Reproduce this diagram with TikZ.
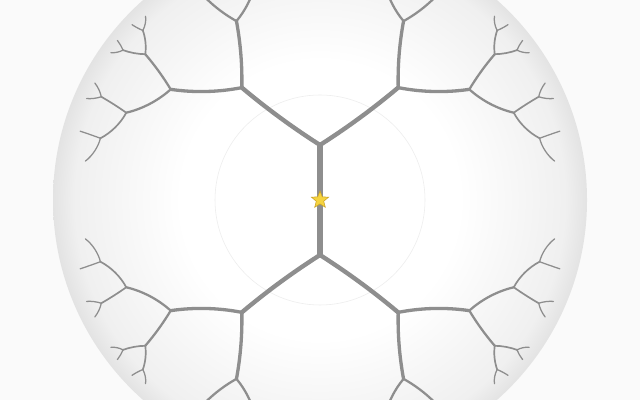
\documentclass[tikz,border=0pt]{standalone}
\usetikzlibrary{shapes.geometric}

\definecolor{twig}{HTML}{8E8E8E}
\definecolor{gold}{HTML}{F5D33F}
\definecolor{goldedge}{HTML}{C9A227}
\pgfdeclareradialshading{disc}{\pgfpointorigin}{color(0bp)=(white); color(13bp)=(white); color(23bp)=(black!6); color(25bp)=(black!11); color(50bp)=(black!11)}

% step length of one edge in the disc, tanh(L/2)
\newcommand\sproutlen{0.3969}
% #1 name, #2 x, #3 y, #4 heading, #5 levels still to grow
\newcommand\sprout[5]{%
  \ifnum#5>0
    \foreach \side/\sgn in {l/1,r/-1}{%
      \pgfmathsetmacro\fan{{48,48.5,50.5,51.2,57.5}[#5-1]}
      \pgfmathsetmacro\dir{(#4)+(\sgn)*(\fan)}
      \pgfmathsetmacro\wx{\sproutlen*cos(\dir)}
      \pgfmathsetmacro\wy{\sproutlen*sin(\dir)}
      \pgfmathsetmacro\qx{1+(#2)*(\wx)+(#3)*(\wy)}
      \pgfmathsetmacro\qy{(#2)*(\wy)-(#3)*(\wx)}
      \pgfmathsetmacro\qq{(\qx)*(\qx)+(\qy)*(\qy)}
      \pgfmathsetmacro\cx{(((\wx)+(#2))*(\qx)+((\wy)+(#3))*(\qy))/(\qq)}
      \pgfmathsetmacro\cy{(((\wy)+(#3))*(\qx)-((\wx)+(#2))*(\qy))/(\qq)}
      \pgfmathsetmacro\hd{(\dir)-2*atan2(\qy,\qx)}
      \pgfmathsetmacro\hk{veclen((\cx)-(#2),(\cy)-(#3))/3}
      \coordinate (#1\side) at (\cx,\cy);
      \draw[branch, tier#5] (#1) .. controls +(\dir:\hk) and +(\hd+180:\hk) .. (#1\side);
      \pgfmathtruncatemacro\lv{#5-1}
      \edef\next{\noexpand\sprout{#1\side}{\cx}{\cy}{\hd}{\lv}}\next
    }%
  \fi}

\begin{document}
\begin{tikzpicture}[
    branch/.style={draw=twig, line cap=round},
    trunk/.style={line width=3.6pt},
    tier5/.style={line width=3.1pt},
    tier4/.style={line width=2.35pt},
    tier3/.style={line width=1.6pt},
    tier2/.style={line width=1.2pt},
    tier1/.style={line width=0.9pt},
    hub/.style={star, star points=5, star point ratio=2.3, minimum size=0.45cm,
      inner sep=0pt, fill=gold, draw=goldedge, line width=0.4pt},
  ]
  \useasboundingbox (0,0) rectangle (16,10);
  \clip (0,0) rectangle (16,10);
  \fill[black!2] (0,0) rectangle (16,10);

  % the disc and its inner ring
  \shade[shading=disc] (8,5) circle (6.675);
  \draw[black!7, line width=0.4pt] (8,5) circle (2.625);

  % the tree, in disc units
  \begin{scope}[shift={(8,5)}, x=6.675cm, y=6.675cm]
    \coordinate (t) at (0,0.206);
    \coordinate (b) at (0,-0.206);
    \draw[branch, trunk] (t) -- (b);
    \sprout{t}{0}{0.206}{90}{5}
    \sprout{b}{0}{-0.206}{-90}{5}
  \end{scope}

  \node[hub] (hub) at (8,5) {};
\end{tikzpicture}
\end{document}
